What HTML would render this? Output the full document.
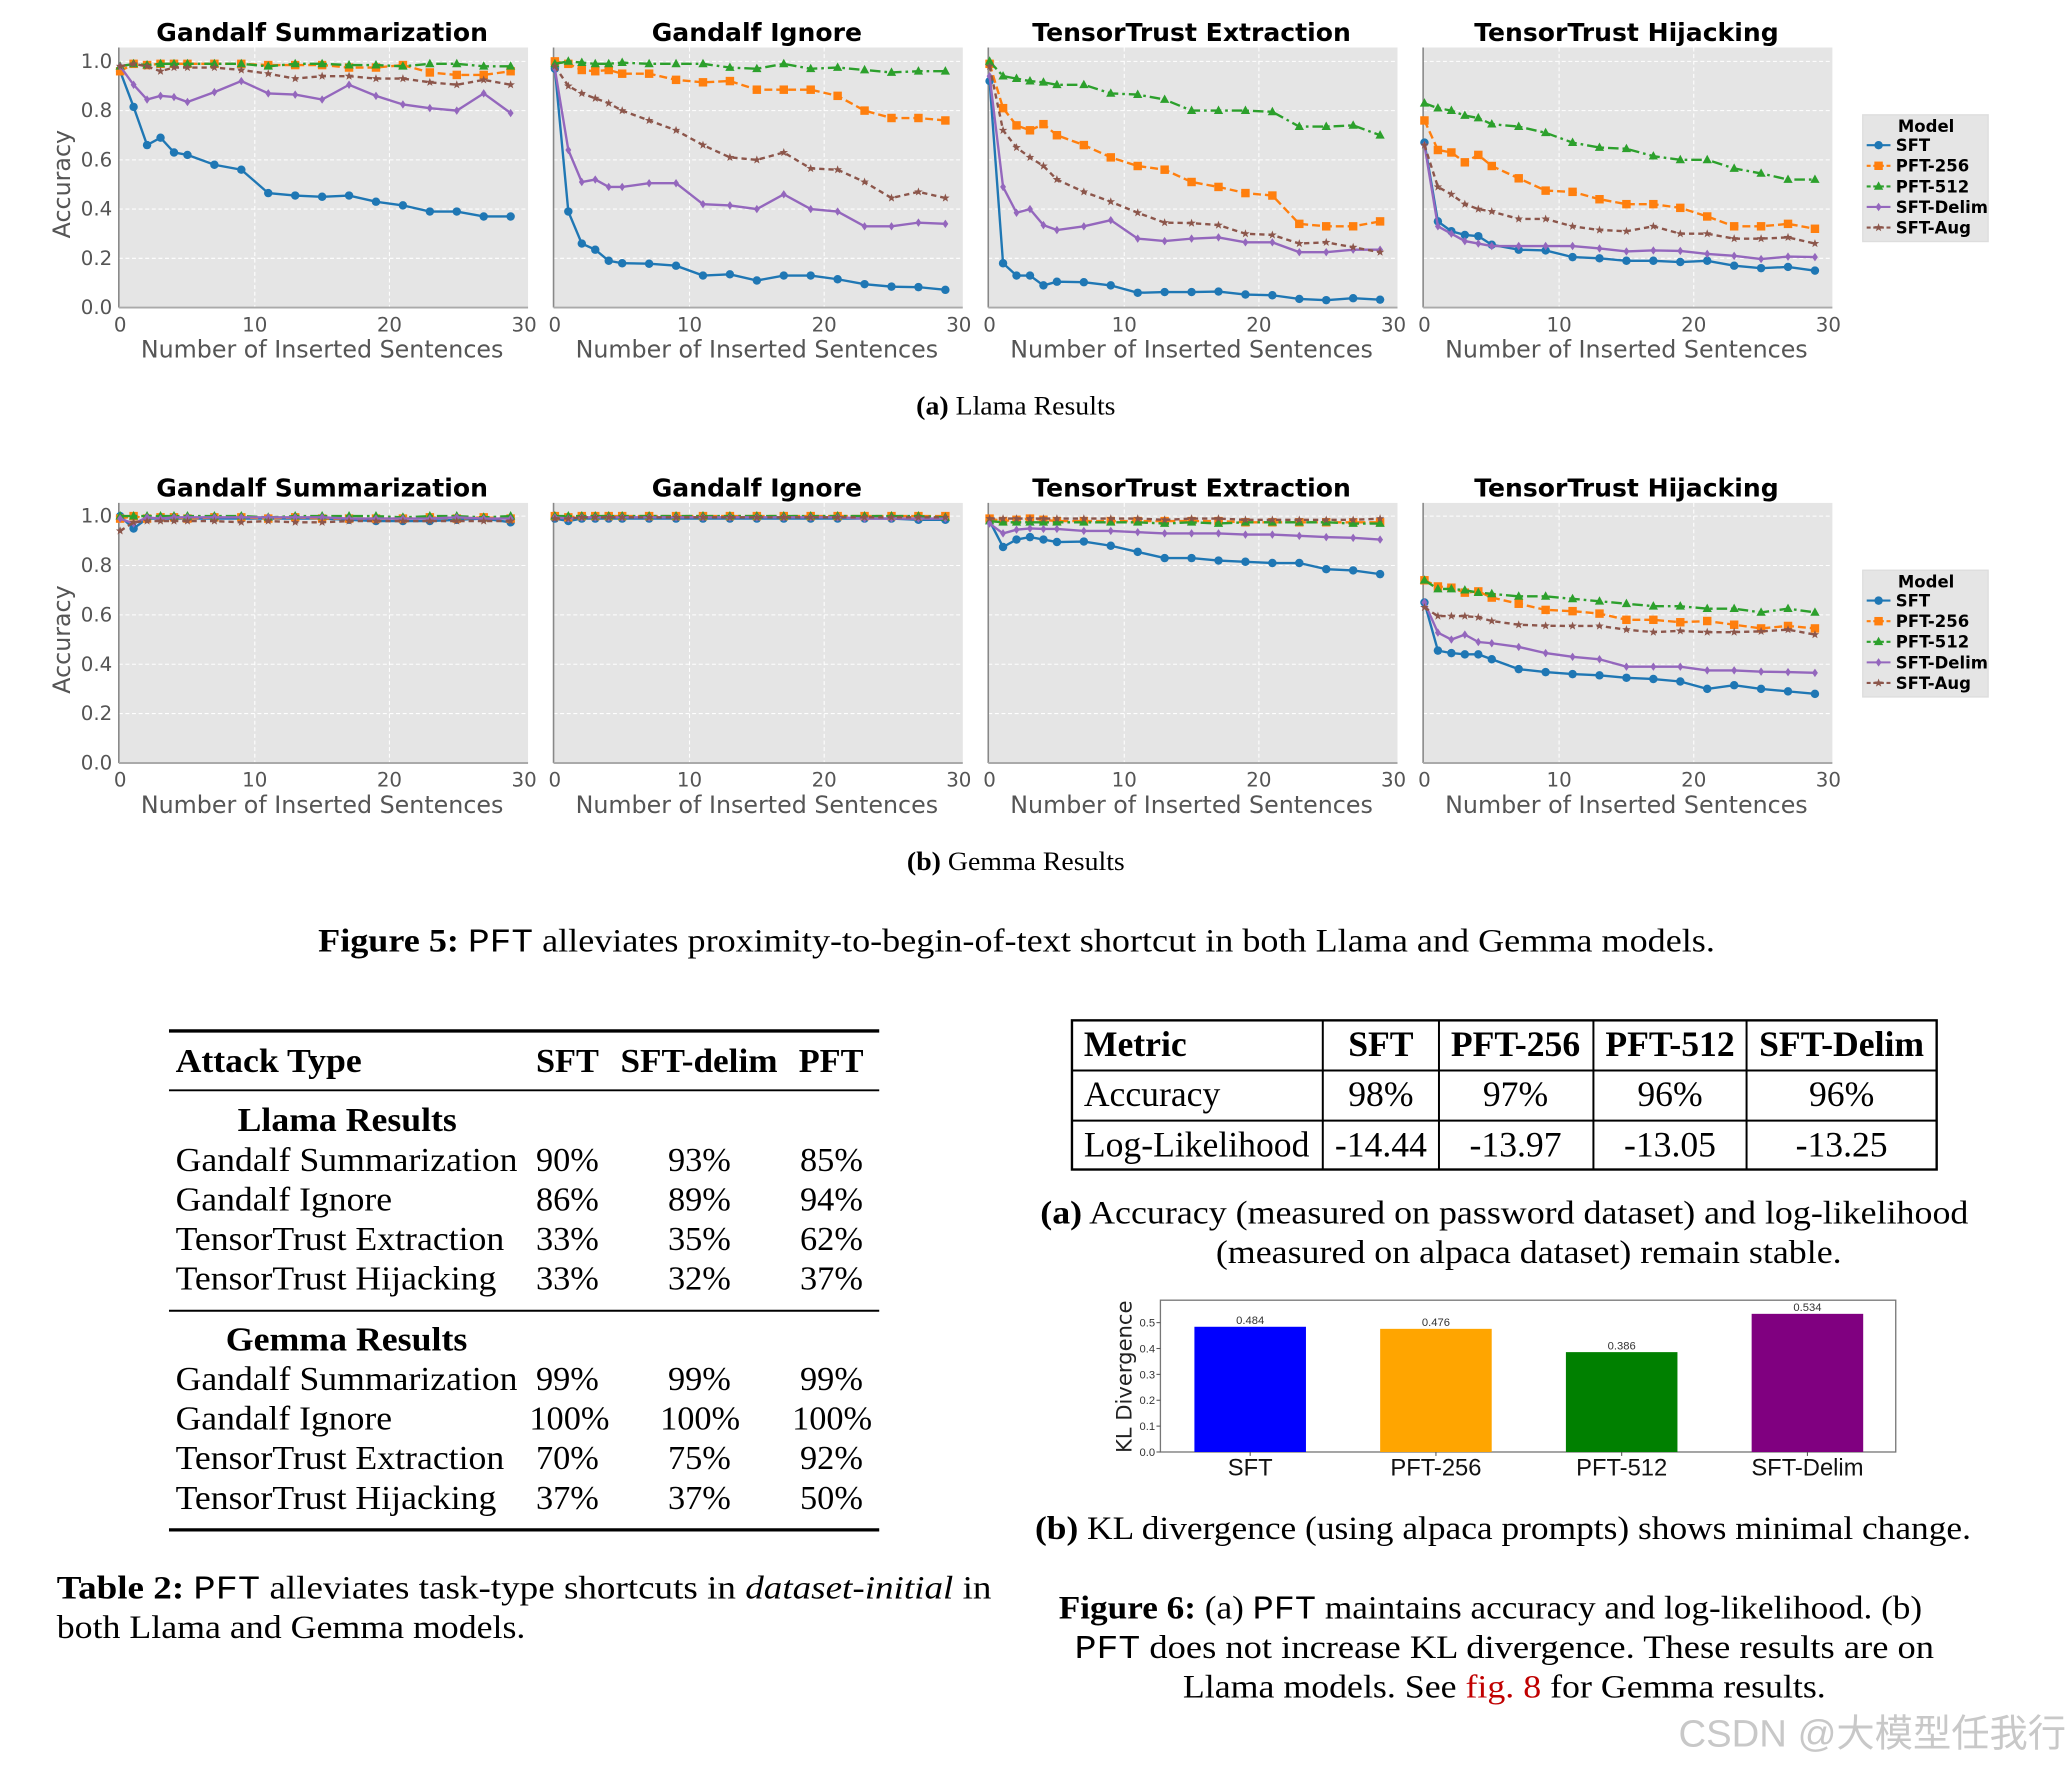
<!DOCTYPE html>
<html><head><meta charset="utf-8"><style>
html,body{margin:0;padding:0;background:#fff;}
svg{display:block;}
.serif{font-family:"Liberation Serif",serif;}
</style></head><body>
<svg id="root" width="2070" height="1768" viewBox="0 0 1568 1339.4" preserveAspectRatio="none" xmlns="http://www.w3.org/2000/svg">
<rect x="0" y="0" width="1568" height="1339.4" fill="#fff"/>
<g id="charts"></g>

<text class="serif" x="694" y="314" font-size="20" textLength="151" lengthAdjust="spacingAndGlyphs"><tspan font-weight="bold">(a)</tspan> Llama Results</text>
<text class="serif" x="687" y="659" font-size="20" textLength="165" lengthAdjust="spacingAndGlyphs"><tspan font-weight="bold">(b)</tspan> Gemma Results</text>
<text class="serif" x="241" y="721" font-size="25" textLength="1058" lengthAdjust="spacingAndGlyphs"><tspan font-weight="bold">Figure 5:</tspan> <tspan font-family="Liberation Mono, monospace">PFT</tspan> alleviates proximity-to-begin-of-text shortcut in both Llama and Gemma models.</text>

<g class="serif" font-size="26">
<line x1="128" y1="781" x2="666" y2="781" stroke="#000" stroke-width="2.5"/>
<text x="133" y="812" font-weight="bold" textLength="141" lengthAdjust="spacingAndGlyphs">Attack Type</text>
<text x="406" y="812" font-weight="bold">SFT</text>
<text x="470" y="812" font-weight="bold" textLength="119" lengthAdjust="spacingAndGlyphs">SFT-delim</text>
<text x="605" y="812" font-weight="bold">PFT</text>
<line x1="128" y1="826" x2="666" y2="826" stroke="#000" stroke-width="1.5"/>
<text x="180" y="857" font-weight="bold" textLength="166" lengthAdjust="spacingAndGlyphs">Llama Results</text>
<text x="133" y="887" textLength="259" lengthAdjust="spacingAndGlyphs">Gandalf Summarization</text><text x="406" y="887">90%</text><text x="506" y="887">93%</text><text x="606" y="887">85%</text>
<text x="133" y="917" textLength="164" lengthAdjust="spacingAndGlyphs">Gandalf Ignore</text><text x="406" y="917">86%</text><text x="506" y="917">89%</text><text x="606" y="917">94%</text>
<text x="133" y="947" textLength="249" lengthAdjust="spacingAndGlyphs">TensorTrust Extraction</text><text x="406" y="947">33%</text><text x="506" y="947">35%</text><text x="606" y="947">62%</text>
<text x="133" y="977" textLength="243" lengthAdjust="spacingAndGlyphs">TensorTrust Hijacking</text><text x="406" y="977">33%</text><text x="506" y="977">32%</text><text x="606" y="977">37%</text>
<line x1="128" y1="993" x2="666" y2="993" stroke="#000" stroke-width="1.5"/>
<text x="171" y="1023" font-weight="bold" textLength="183" lengthAdjust="spacingAndGlyphs">Gemma Results</text>
<text x="133" y="1053" textLength="259" lengthAdjust="spacingAndGlyphs">Gandalf Summarization</text><text x="406" y="1053">99%</text><text x="506" y="1053">99%</text><text x="606" y="1053">99%</text>
<text x="133" y="1083" textLength="164" lengthAdjust="spacingAndGlyphs">Gandalf Ignore</text><text x="401" y="1083">100%</text><text x="500" y="1083">100%</text><text x="600" y="1083">100%</text>
<text x="133" y="1113" textLength="249" lengthAdjust="spacingAndGlyphs">TensorTrust Extraction</text><text x="406" y="1113">70%</text><text x="506" y="1113">75%</text><text x="606" y="1113">92%</text>
<text x="133" y="1143" textLength="243" lengthAdjust="spacingAndGlyphs">TensorTrust Hijacking</text><text x="406" y="1143">37%</text><text x="506" y="1143">37%</text><text x="606" y="1143">50%</text>
<line x1="128" y1="1159" x2="666" y2="1159" stroke="#000" stroke-width="2.5"/>
</g>
<text class="serif" x="43" y="1211" font-size="25" textLength="708" lengthAdjust="spacingAndGlyphs"><tspan font-weight="bold">Table 2:</tspan> <tspan font-family="Liberation Mono, monospace">PFT</tspan> alleviates task-type shortcuts in <tspan font-style="italic">dataset-initial</tspan> in</text>
<text class="serif" x="43" y="1241" font-size="25" textLength="355" lengthAdjust="spacingAndGlyphs">both Llama and Gemma models.</text>

<g class="serif" font-size="27">
<rect x="812" y="773" width="655" height="113" fill="none" stroke="#000" stroke-width="1.8"/>
<line x1="812" y1="811" x2="1467" y2="811" stroke="#000" stroke-width="1.5"/>
<line x1="812" y1="849" x2="1467" y2="849" stroke="#000" stroke-width="1.5"/>
<line x1="1002" y1="773" x2="1002" y2="886" stroke="#000" stroke-width="1.5"/>
<line x1="1090" y1="773" x2="1090" y2="886" stroke="#000" stroke-width="1.5"/>
<line x1="1207" y1="773" x2="1207" y2="886" stroke="#000" stroke-width="1.5"/>
<line x1="1323" y1="773" x2="1323" y2="886" stroke="#000" stroke-width="1.5"/>
<g font-weight="bold"><text x="821" y="800">Metric</text>
<text x="1046" y="800" text-anchor="middle">SFT</text><text x="1148" y="800" text-anchor="middle">PFT-256</text><text x="1265" y="800" text-anchor="middle">PFT-512</text><text x="1395" y="800" text-anchor="middle">SFT-Delim</text></g>
<text x="821" y="838">Accuracy</text>
<text x="1046" y="838" text-anchor="middle">98%</text><text x="1148" y="838" text-anchor="middle">97%</text><text x="1265" y="838" text-anchor="middle">96%</text><text x="1395" y="838" text-anchor="middle">96%</text>
<text x="821" y="876">Log-Likelihood</text>
<text x="1046" y="876" text-anchor="middle">-14.44</text><text x="1148" y="876" text-anchor="middle">-13.97</text><text x="1265" y="876" text-anchor="middle">-13.05</text><text x="1395" y="876" text-anchor="middle">-13.25</text>
</g>
<text class="serif" x="788" y="927" font-size="25" textLength="703" lengthAdjust="spacingAndGlyphs"><tspan font-weight="bold">(a)</tspan> Accuracy (measured on password dataset) and log-likelihood</text>
<text class="serif" x="921" y="957" font-size="25" textLength="474" lengthAdjust="spacingAndGlyphs">(measured on alpaca dataset) remain stable.</text>

<g id="barchart"></g>

<text class="serif" x="784" y="1166" font-size="25" textLength="709" lengthAdjust="spacingAndGlyphs"><tspan font-weight="bold">(b)</tspan> KL divergence (using alpaca prompts) shows minimal change.</text>
<text class="serif" x="802" y="1226" font-size="25" textLength="654" lengthAdjust="spacingAndGlyphs"><tspan font-weight="bold">Figure 6:</tspan> (a) <tspan font-family="Liberation Mono, monospace">PFT</tspan> maintains accuracy and log-likelihood. (b)</text>
<text class="serif" x="814" y="1256" font-size="25" textLength="651" lengthAdjust="spacingAndGlyphs"><tspan font-family="Liberation Mono, monospace">PFT</tspan> does not increase KL divergence. These results are on</text>
<text class="serif" x="896" y="1286" font-size="25" textLength="487" lengthAdjust="spacingAndGlyphs">Llama models. See <tspan fill="#c00000">fig. 8</tspan> for Gemma results.</text>
<text x="1565" y="1323" font-size="29" fill="#c8c8c8" text-anchor="end" font-family="Liberation Sans, Noto Sans CJK SC, sans-serif">CSDN @大模型任我行</text>
</svg>
<script>
const NS = "http://www.w3.org/2000/svg";
const xsPoints = [0,1,2,3,4,5,7,9,11,13,15,17,19,21,23,25,27,29];
const xTicks = [0,10,20,30];
const yTicks = [0.0,0.2,0.4,0.6,0.8,1.0];
const yTickLabels = ["0.0","0.2","0.4","0.6","0.8","1.0"];
const panelTitles = ["Gandalf Summarization","Gandalf Ignore","TensorTrust Extraction","TensorTrust Hijacking"];
const seriesNames = ["SFT","PFT-256","PFT-512","SFT-Delim","SFT-Aug"];

// Llama
const llamaGS_SFT   = [0.96,0.815,0.66,0.69,0.63,0.62,0.58,0.56,0.465,0.455,0.45,0.455,0.43,0.415,0.39,0.39,0.37,0.37];
const llamaGS_P256  = [0.96,0.99,0.985,0.99,0.99,0.99,0.99,0.99,0.985,0.985,0.985,0.975,0.975,0.985,0.955,0.945,0.945,0.96];
const llamaGS_P512  = [0.98,0.99,0.985,0.99,0.99,0.99,0.99,0.99,0.98,0.99,0.99,0.985,0.985,0.98,0.99,0.99,0.98,0.98];
const llamaGS_Delim = [0.98,0.905,0.845,0.86,0.855,0.835,0.875,0.92,0.87,0.865,0.845,0.905,0.86,0.825,0.81,0.80,0.87,0.79];
const llamaGS_Aug   = [0.98,0.99,0.98,0.96,0.975,0.975,0.975,0.965,0.95,0.93,0.94,0.94,0.93,0.93,0.915,0.905,0.925,0.905];

const llamaGI_SFT   = [0.97,0.39,0.26,0.235,0.19,0.18,0.178,0.17,0.13,0.135,0.11,0.13,0.13,0.115,0.095,0.085,0.083,0.072];
const llamaGI_P256  = [1.0,0.99,0.965,0.96,0.965,0.95,0.95,0.925,0.915,0.92,0.885,0.885,0.885,0.86,0.80,0.77,0.77,0.76];
const llamaGI_P512  = [0.99,1.0,0.995,0.99,0.99,0.995,0.99,0.99,0.99,0.975,0.97,0.99,0.97,0.975,0.965,0.955,0.96,0.96];
const llamaGI_Delim = [0.97,0.64,0.51,0.52,0.49,0.49,0.505,0.505,0.42,0.415,0.40,0.46,0.40,0.39,0.33,0.33,0.345,0.34];
const llamaGI_Aug   = [0.98,0.90,0.87,0.85,0.83,0.80,0.76,0.72,0.66,0.61,0.60,0.63,0.565,0.56,0.51,0.445,0.47,0.445];

const llamaTE_SFT   = [0.92,0.18,0.13,0.13,0.09,0.105,0.103,0.09,0.06,0.063,0.063,0.065,0.053,0.05,0.035,0.03,0.038,0.032];
const llamaTE_P256  = [0.99,0.81,0.74,0.72,0.745,0.70,0.66,0.61,0.575,0.56,0.51,0.49,0.465,0.455,0.34,0.33,0.33,0.35];
const llamaTE_P512  = [1.0,0.94,0.93,0.92,0.915,0.905,0.905,0.87,0.865,0.845,0.80,0.80,0.80,0.795,0.735,0.735,0.74,0.70];
const llamaTE_Delim = [0.94,0.49,0.385,0.40,0.335,0.315,0.33,0.355,0.28,0.27,0.28,0.285,0.265,0.265,0.225,0.225,0.235,0.235];
const llamaTE_Aug   = [0.98,0.72,0.65,0.61,0.575,0.52,0.47,0.43,0.385,0.345,0.343,0.335,0.30,0.295,0.26,0.265,0.245,0.225];

const llamaTH_SFT   = [0.67,0.35,0.31,0.295,0.29,0.255,0.235,0.232,0.205,0.20,0.19,0.19,0.185,0.19,0.17,0.16,0.165,0.15];
const llamaTH_P256  = [0.76,0.64,0.63,0.59,0.62,0.575,0.525,0.475,0.47,0.44,0.42,0.42,0.405,0.37,0.33,0.33,0.34,0.32];
const llamaTH_P512  = [0.83,0.81,0.80,0.78,0.77,0.745,0.735,0.71,0.67,0.65,0.645,0.615,0.60,0.60,0.565,0.545,0.52,0.52];
const llamaTH_Delim = [0.66,0.33,0.30,0.27,0.26,0.25,0.25,0.25,0.25,0.24,0.228,0.232,0.23,0.218,0.21,0.197,0.207,0.205];
const llamaTH_Aug   = [0.66,0.49,0.46,0.42,0.40,0.39,0.36,0.36,0.33,0.315,0.31,0.33,0.30,0.30,0.28,0.28,0.285,0.26];

// Gemma
const gemmaGS_SFT   = [1.0,0.95,0.99,0.99,0.99,0.99,0.99,0.99,0.99,0.99,0.99,0.985,0.98,0.98,0.98,0.985,0.99,0.975];
const gemmaGS_P256  = [0.99,1.0,0.99,0.995,0.995,0.99,0.995,0.995,0.99,0.995,0.99,0.99,0.99,0.99,0.995,0.99,0.995,0.99];
const gemmaGS_P512  = [1.0,1.0,1.0,1.0,1.0,1.0,1.0,1.0,0.995,1.0,1.0,1.0,1.0,0.995,1.0,1.0,0.995,1.0];
const gemmaGS_Delim = [0.99,0.97,0.995,0.99,0.995,0.995,0.995,0.995,0.995,0.995,0.995,0.99,0.99,0.99,0.99,0.995,0.99,0.99];
const gemmaGS_Aug   = [0.94,0.975,0.98,0.98,0.98,0.98,0.98,0.975,0.98,0.975,0.975,0.98,0.98,0.98,0.98,0.98,0.98,0.98];

const gemmaGI_SFT   = [0.99,0.98,0.99,0.99,0.99,0.99,0.99,0.99,0.99,0.99,0.99,0.99,0.99,0.99,0.99,0.99,0.985,0.985];
const gemmaGI_P256  = [1.0,0.995,1.0,1.0,1.0,1.0,1.0,1.0,1.0,1.0,1.0,1.0,1.0,1.0,1.0,1.0,1.0,1.0];
const gemmaGI_P512  = [1.0,1.0,1.0,1.0,1.0,1.0,1.0,1.0,1.0,1.0,1.0,1.0,1.0,1.0,1.0,1.0,1.0,0.995];
const gemmaGI_Delim = [0.995,0.99,0.995,0.995,0.995,0.995,0.995,0.995,0.995,0.995,0.995,0.995,0.995,0.995,0.99,0.99,0.99,0.99];
const gemmaGI_Aug   = [0.99,0.99,0.995,0.995,0.995,0.995,0.995,0.995,0.995,0.995,0.995,0.995,0.995,0.995,0.995,0.995,0.995,0.995];

const gemmaTE_SFT   = [0.98,0.875,0.905,0.915,0.905,0.895,0.897,0.88,0.855,0.83,0.83,0.82,0.815,0.81,0.81,0.785,0.78,0.765];
const gemmaTE_P256  = [0.99,0.98,0.985,0.99,0.985,0.98,0.98,0.98,0.98,0.98,0.98,0.98,0.975,0.975,0.975,0.975,0.975,0.975];
const gemmaTE_P512  = [0.98,0.975,0.975,0.975,0.975,0.975,0.975,0.975,0.975,0.97,0.975,0.97,0.975,0.975,0.975,0.975,0.97,0.97];
const gemmaTE_Delim = [0.97,0.93,0.945,0.95,0.948,0.948,0.94,0.94,0.935,0.93,0.93,0.93,0.925,0.925,0.92,0.915,0.912,0.905];
const gemmaTE_Aug   = [0.99,0.99,0.99,0.99,0.99,0.99,0.99,0.99,0.99,0.985,0.99,0.99,0.985,0.985,0.985,0.985,0.985,0.99];

const gemmaTH_SFT   = [0.65,0.455,0.445,0.44,0.44,0.42,0.38,0.368,0.36,0.355,0.345,0.34,0.33,0.30,0.315,0.30,0.29,0.28];
const gemmaTH_P256  = [0.74,0.715,0.71,0.69,0.695,0.67,0.645,0.62,0.615,0.605,0.58,0.58,0.57,0.575,0.56,0.545,0.555,0.545];
const gemmaTH_P512  = [0.74,0.705,0.705,0.70,0.69,0.685,0.675,0.675,0.665,0.655,0.645,0.635,0.635,0.625,0.625,0.61,0.625,0.61];
const gemmaTH_Delim = [0.65,0.528,0.50,0.52,0.49,0.485,0.47,0.445,0.43,0.42,0.39,0.39,0.39,0.375,0.375,0.37,0.368,0.365];
const gemmaTH_Aug   = [0.63,0.595,0.595,0.595,0.59,0.575,0.56,0.556,0.555,0.555,0.54,0.53,0.535,0.53,0.53,0.533,0.54,0.52];

// KL bar chart
const klCategories = ["SFT","PFT-256","PFT-512","SFT-Delim"];
const klValues = [0.484,0.476,0.386,0.534];
const klTicks = [0.0,0.1,0.2,0.3,0.4,0.5];

const rows = [
  [[llamaGS_SFT,llamaGS_P256,llamaGS_P512,llamaGS_Delim,llamaGS_Aug],
   [llamaGI_SFT,llamaGI_P256,llamaGI_P512,llamaGI_Delim,llamaGI_Aug],
   [llamaTE_SFT,llamaTE_P256,llamaTE_P512,llamaTE_Delim,llamaTE_Aug],
   [llamaTH_SFT,llamaTH_P256,llamaTH_P512,llamaTH_Delim,llamaTH_Aug]],
  [[gemmaGS_SFT,gemmaGS_P256,gemmaGS_P512,gemmaGS_Delim,gemmaGS_Aug],
   [gemmaGI_SFT,gemmaGI_P256,gemmaGI_P512,gemmaGI_Delim,gemmaGI_Aug],
   [gemmaTE_SFT,gemmaTE_P256,gemmaTE_P512,gemmaTE_Delim,gemmaTE_Aug],
   [gemmaTH_SFT,gemmaTH_P256,gemmaTH_P512,gemmaTH_Delim,gemmaTH_Aug]]
];
const rowLabels = ["llama","gemma"];

const colors = ["#1f77b4","#ff7f0e","#2ca02c","#9467bd","#8c564b"];
const dashes = ["", "6,3", "8,3,2,3", "", "4,3"];
const markerKinds = ["circle","square","triangle","diamond","star"];

function mk(tag, attrs, parent){
  const e = document.createElementNS(NS, tag);
  for (const k in attrs) e.setAttribute(k, attrs[k]);
  if (parent) parent.appendChild(e);
  return e;
}
function markerPath(kind, x, y){
  const s = 3.2;
  if (kind==="square") return `M${x-s},${y-s}h${2*s}v${2*s}h${-2*s}z`;
  if (kind==="triangle") return `M${x},${y-s*1.2}L${x+s*1.1},${y+s*0.8}L${x-s*1.1},${y+s*0.8}z`;
  if (kind==="diamond") return `M${x},${y-s}L${x+s*0.7},${y}L${x},${y+s}L${x-s*0.7},${y}z`;
  if (kind==="star"){ let d=""; for(let i=0;i<10;i++){const r=i%2?1.4:3.4; const a=-Math.PI/2+i*Math.PI/5; d+=(i?"L":"M")+(x+r*Math.cos(a)).toFixed(2)+","+(y+r*Math.sin(a)).toFixed(2);} return d+"z"; }
  return `M${x-s},${y}a${s},${s} 0 1,0 ${2*s},0a${s},${s} 0 1,0 ${-2*s},0`;
}

const charts = document.getElementById("charts");
const rowGeom = [{top:36, bottom:233, y0:233, y1:46.5},{top:381, bottom:578, y0:578, y1:391}];
const panelLeft = [90, 419.3, 748.6, 1078];
const panelW = 310;

rows.forEach((row, ri) => {
  const g = rowGeom[ri];
  const yScale = v => g.y0 - v*(g.y0-g.y1);
  row.forEach((panel, pi) => {
    const px = panelLeft[pi];
    const xScale = v => px + 1 + v*(panelW-4)/30;
    const pg = mk("g", {}, charts);
    
    
    const bg = mk("rect", {x:px, y:g.top, width:panelW, height:g.bottom-g.top, fill:"#e5e5e5"}, pg);
    
    
    yTicks.forEach(t => { if (t>0) mk("line",{x1:px,x2:px+panelW,y1:yScale(t),y2:yScale(t),stroke:"#fff","stroke-width":0.8,"stroke-dasharray":"3,2"},pg); });
    xTicks.forEach(t => { if (t>0 && t<30) mk("line",{x1:xScale(t),x2:xScale(t),y1:g.top,y2:g.bottom,stroke:"#fff","stroke-width":0.8,"stroke-dasharray":"3,2"},pg); });
    mk("line",{x1:px,x2:px,y1:g.top,y2:g.bottom,stroke:"#888","stroke-width":1.2},pg);
    mk("line",{x1:px,x2:px+panelW,y1:g.bottom,y2:g.bottom,stroke:"#aaa","stroke-width":1.5},pg);
    const title = mk("text",{x:px+154,y:g.top-5,"font-size":19,"font-weight":"bold","text-anchor":"middle","font-family":"DejaVu Sans, sans-serif"},pg);
    title.textContent = panelTitles[pi];
    
    
    xTicks.forEach(t => {
      const tx = mk("text",{x:xScale(t),y:g.bottom+18,"font-size":15,fill:"#555","text-anchor":"middle","font-family":"DejaVu Sans, sans-serif"},pg);
      tx.textContent = String(t);
      
      
    });
    const xl = mk("text",{x:px+154,y:g.bottom+38,"font-size":18,fill:"#555","text-anchor":"middle","font-family":"DejaVu Sans, sans-serif"},pg);
    xl.textContent = "Number of Inserted Sentences";
    
    
    if (pi===0){
      yTicks.forEach((t,i) => {
        const ty = mk("text",{x:px-5,y:yScale(t)+5,"font-size":15,fill:"#555","text-anchor":"end","font-family":"DejaVu Sans, sans-serif"},pg);
        ty.textContent = yTickLabels[i];
        
        
      });
      const yl = mk("text",{x:0,y:0,"font-size":18,fill:"#555","text-anchor":"middle","font-family":"DejaVu Sans, sans-serif",transform:`translate(53,${(g.top+g.bottom)/2+5}) rotate(-90)`},pg);
      yl.textContent = "Accuracy";
      
      
    }
    panel.forEach((vals, si) => {
      const d = vals.map((v,i)=>(i?"L":"M")+xScale(xsPoints[i]).toFixed(2)+","+yScale(v).toFixed(2)).join("");
      const line = mk("path",{d:d,fill:"none",stroke:colors[si],"stroke-width":1.8,"stroke-dasharray":dashes[si]},pg);
      
      
      vals.forEach((v,i) => {
        const m = mk("path",{d:markerPath(markerKinds[si], xScale(xsPoints[i]), yScale(v)),fill:colors[si]},pg);
        
        
      });
    });
  });
  const ly = ri===0 ? 87 : 432;
  const lg = mk("g",{},charts);
  
  
  mk("rect",{x:1411,y:ly,width:95,height:96,fill:"#e5e5e5",stroke:"#ddd"},lg);
  const lt = mk("text",{x:1459,y:ly+13,"font-size":12.5,"font-weight":"bold","text-anchor":"middle","font-family":"DejaVu Sans, sans-serif"},lg);
  lt.textContent = "Model";
  seriesNames.forEach((n,si) => {
    const yy = ly+23+si*15.6;
    const le = mk("g",{},lg);
    
    
    mk("line",{x1:1414,x2:1432,y1:yy,y2:yy,stroke:colors[si],"stroke-width":1.6,"stroke-dasharray":dashes[si]?"3,2":""},le);
    mk("path",{d:markerPath(markerKinds[si],1423,yy),fill:colors[si]},le);
    const t = mk("text",{x:1436,y:yy+4.5,"font-size":12.5,"font-weight":"bold","font-family":"DejaVu Sans, sans-serif"},le);
    t.textContent = n;
  });
});

const bc = document.getElementById("barchart");
const box = {l:879, r:1436, t:985, b:1100};
const klY = v => box.b - v*196;
const klX = i => 947 + i*140.7;
const barW = 84.5;
const barColors = ["#0000ff","#ffa500","#008000","#800080"];
mk("rect",{x:box.l,y:box.t,width:box.r-box.l,height:box.b-box.t,fill:"#fff",stroke:"#777","stroke-width":1},bc);
klTicks.forEach(t => {
  mk("line",{x1:box.l-3,x2:box.l,y1:klY(t),y2:klY(t),stroke:"#555","stroke-width":0.8},bc);
  const tt = mk("text",{x:box.l-4,y:klY(t)+3,"font-size":8.5,fill:"#333","text-anchor":"end","font-family":"Liberation Sans, sans-serif"},bc);
  tt.textContent = t.toFixed(1);
  
  
});
const kyl = mk("text",{x:0,y:0,"font-size":16,fill:"#222","text-anchor":"middle","font-family":"DejaVu Sans, sans-serif",transform:`translate(857,1043) rotate(-90)`},bc);
kyl.textContent = "KL Divergence";


klValues.forEach((v,i) => {
  const b = mk("rect",{x:klX(i)-barW/2,y:klY(v),width:barW,height:klY(0)-klY(v),fill:barColors[i]},bc);
  
  
  const vl = mk("text",{x:klX(i),y:klY(v)-2,"font-size":8.5,fill:"#333","text-anchor":"middle","font-family":"Liberation Sans, sans-serif"},bc);
  vl.textContent = v.toFixed(3);
  
  
  mk("line",{x1:klX(i),x2:klX(i),y1:box.b,y2:box.b+3,stroke:"#555","stroke-width":0.8},bc);
  const cl = mk("text",{x:klX(i),y:box.b+18,"font-size":18,fill:"#111","text-anchor":"middle","font-family":"Liberation Sans, sans-serif"},bc);
  cl.textContent = klCategories[i];
  
  
});
</script>
</body></html>
